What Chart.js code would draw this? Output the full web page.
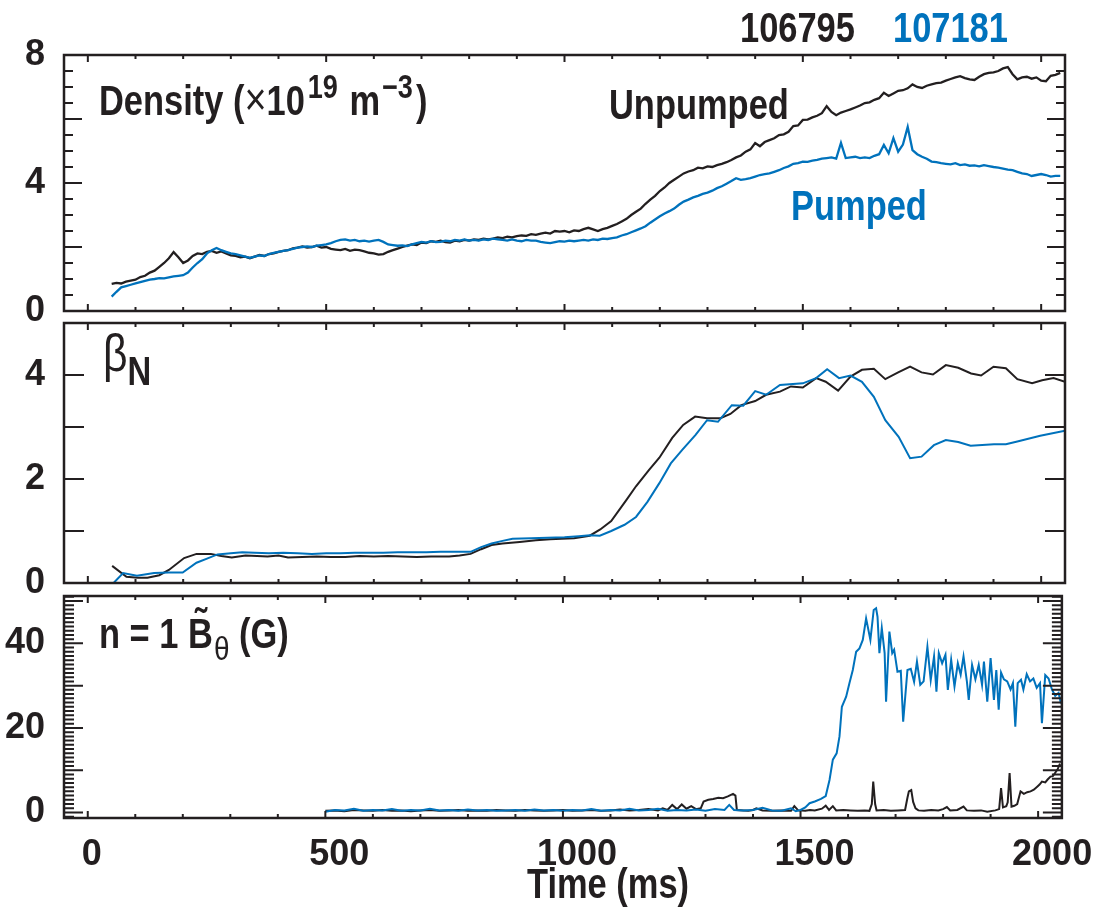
<!DOCTYPE html>
<html>
<head>
<meta charset="utf-8">
<title>Density, beta_N and n=1 B</title>
<script src="https://cdn.jsdelivr.net/npm/chart.js@4.4.1/dist/chart.umd.min.js"></script>
<style>
  body { margin: 0; background: #fff; }
  #wrap { position: relative; width: 1100px; height: 910px; }
  #wrap canvas { position: absolute; left: 0; top: 0; }
</style>
</head>
<body>
<div id="wrap">
  <canvas id="density" width="1100" height="910"></canvas>
  <canvas id="beta" width="1100" height="910"></canvas>
  <canvas id="bfield" width="1100" height="910"></canvas>
</div>
<script>
// shot numbers
const shotUnpumped = '106795';
const shotPumped = '107181';

// line-averaged density (x10^19 m^-3), one value every 10 ms from 50 ms
const densityStart = 50;
const densityStep = 10;
const densityUnpumped = [
  0.85, 0.88, 0.86, 0.92, 0.95, 0.98, 1.06, 1.10, 1.20, 1.26,
  1.38, 1.50, 1.65, 1.84, 1.68, 1.50, 1.58, 1.72, 1.80, 1.78,
  1.85, 1.88, 1.82, 1.86, 1.80, 1.74, 1.72, 1.68, 1.70, 1.65,
  1.70, 1.75, 1.72, 1.78, 1.80, 1.85, 1.88, 1.90, 1.96, 1.98,
  2.02, 1.98, 2.00, 2.04, 1.98, 2.00, 1.94, 1.92, 1.90, 1.94,
  1.88, 1.92, 1.90, 1.86, 1.82, 1.80, 1.76, 1.78, 1.85, 1.90,
  1.95, 2.00, 2.04, 2.08, 2.06, 2.14, 2.12, 2.18, 2.16, 2.20,
  2.15, 2.14, 2.20, 2.18, 2.22, 2.20, 2.24, 2.22, 2.26, 2.24,
  2.26, 2.30, 2.28, 2.32, 2.30, 2.34, 2.36, 2.35, 2.40, 2.38,
  2.42, 2.45, 2.42, 2.50, 2.48, 2.50, 2.46, 2.52, 2.50, 2.56,
  2.60, 2.55, 2.50, 2.56, 2.60, 2.66, 2.72, 2.80, 2.88, 3.00,
  3.10, 3.20, 3.35, 3.48, 3.60, 3.75, 3.86, 4.00, 4.10, 4.20,
  4.30, 4.36, 4.40, 4.48, 4.46, 4.52, 4.50, 4.56, 4.60, 4.65,
  4.72, 4.80, 4.86, 4.98, 5.05, 5.25, 5.15, 5.28, 5.34, 5.40,
  5.50, 5.52, 5.60, 5.78, 5.80, 5.97, 5.98, 6.05, 6.10, 6.18,
  6.40, 6.22, 6.12, 6.20, 6.25, 6.30, 6.36, 6.42, 6.50, 6.52,
  6.60, 6.65, 6.82, 6.72, 6.80, 6.88, 6.90, 6.96, 7.08, 7.00,
  6.97, 7.04, 7.08, 7.12, 7.14, 7.20, 7.25, 7.30, 7.34, 7.28,
  7.24, 7.22, 7.32, 7.40, 7.44, 7.46, 7.50, 7.58, 7.62, 7.40,
  7.24, 7.30, 7.32, 7.26, 7.30, 7.20, 7.18, 7.35, 7.38, 7.44
];
const densityPumped = [
  0.45, 0.60, 0.74, 0.78, 0.82, 0.86, 0.90, 0.94, 0.98, 1.00,
  1.03, 1.02, 1.05, 1.08, 1.10, 1.12, 1.20, 1.36, 1.50, 1.62,
  1.80, 1.90, 1.97, 1.90, 1.85, 1.80, 1.78, 1.74, 1.70, 1.66,
  1.70, 1.74, 1.72, 1.78, 1.82, 1.85, 1.88, 1.90, 1.94, 1.98,
  2.00, 2.02, 2.00, 2.04, 2.06, 2.08, 2.12, 2.18, 2.22, 2.24,
  2.20, 2.22, 2.18, 2.20, 2.17, 2.20, 2.22, 2.16, 2.08, 2.06,
  2.04, 2.05, 2.03, 2.08, 2.12, 2.16, 2.14, 2.18, 2.15, 2.16,
  2.20, 2.18, 2.22, 2.20, 2.24, 2.20, 2.22, 2.20, 2.24, 2.22,
  2.26, 2.24, 2.22, 2.20, 2.24, 2.20, 2.18, 2.22, 2.20, 2.20,
  2.16, 2.14, 2.12, 2.15, 2.18, 2.17, 2.20, 2.18, 2.20, 2.22,
  2.20, 2.24, 2.22, 2.26, 2.25, 2.28, 2.30, 2.36, 2.40, 2.46,
  2.52, 2.58, 2.65, 2.76, 2.86, 2.96, 3.05, 3.12, 3.20, 3.32,
  3.42, 3.48, 3.55, 3.60, 3.66, 3.70, 3.76, 3.84, 3.90, 3.98,
  4.06, 4.15, 4.10, 4.12, 4.15, 4.20, 4.25, 4.28, 4.30, 4.35,
  4.40, 4.47, 4.52, 4.60, 4.62, 4.67, 4.66, 4.70, 4.72, 4.76,
  4.78, 4.80, 4.76, 5.25, 4.78, 4.80, 4.82, 4.78, 4.80, 4.78,
  4.85, 4.90, 5.19, 4.93, 5.40, 4.98, 5.20, 5.75, 5.03, 4.90,
  4.82, 4.76, 4.67, 4.65, 4.62, 4.60, 4.58, 4.62, 4.56, 4.58,
  4.54, 4.55, 4.52, 4.56, 4.53, 4.50, 4.48, 4.45, 4.42, 4.40,
  4.35, 4.30, 4.28, 4.22, 4.25, 4.28, 4.25, 4.20, 4.22, 4.22
];

// beta_N, [time ms, value]
const betaUnpumped = [
  [51, 0.33], [81, 0.12], [105, 0.10], [125, 0.10], [150, 0.15], [170, 0.25], [202, 0.48], [228, 0.56],
  [258, 0.56], [280, 0.52], [302, 0.49], [331, 0.53], [355, 0.52], [377, 0.51], [400, 0.53], [420, 0.49],
  [450, 0.50], [480, 0.51], [510, 0.50], [540, 0.50], [570, 0.52], [600, 0.51], [630, 0.52], [660, 0.51],
  [690, 0.50], [720, 0.51], [758, 0.51], [780, 0.53], [803, 0.56], [825, 0.65], [847, 0.73], [870, 0.76],
  [906, 0.79], [940, 0.82], [970, 0.84], [994, 0.85], [1020, 0.86], [1053, 0.91], [1075, 1.03], [1098, 1.19],
  [1130, 1.60], [1150, 1.86], [1177, 2.17], [1199, 2.41], [1226, 2.79], [1249, 3.04], [1274, 3.20], [1299, 3.17],
  [1327, 3.17], [1348, 3.25], [1371, 3.42], [1400, 3.50], [1423, 3.62], [1452, 3.68], [1475, 3.78], [1500, 3.76],
  [1528, 3.94], [1548, 3.87], [1574, 3.70], [1600, 3.97], [1624, 4.10], [1649, 4.12], [1673, 3.92], [1700, 4.05],
  [1725, 4.16], [1749, 4.05], [1773, 4.01], [1800, 4.19], [1826, 4.14], [1853, 4.03], [1874, 3.99], [1900, 4.16],
  [1926, 4.13], [1950, 3.92], [1981, 3.84], [2002, 3.90], [2026, 3.94], [2050, 3.87]
];
const betaPumped = [
  [54, 0.00], [74, 0.19], [103, 0.14], [139, 0.19], [170, 0.20], [199, 0.20], [228, 0.39], [250, 0.47],
  [272, 0.55], [300, 0.57], [324, 0.59], [350, 0.58], [380, 0.57], [410, 0.58], [440, 0.57], [470, 0.56],
  [500, 0.57], [530, 0.57], [560, 0.58], [590, 0.58], [620, 0.58], [650, 0.59], [680, 0.59], [710, 0.59],
  [740, 0.60], [770, 0.60], [803, 0.60], [825, 0.69], [847, 0.76], [870, 0.81], [891, 0.85], [930, 0.86],
  [964, 0.87], [1000, 0.88], [1030, 0.90], [1053, 0.92], [1074, 0.91], [1098, 1.00], [1126, 1.12], [1150, 1.27],
  [1174, 1.56], [1199, 1.92], [1223, 2.30], [1247, 2.56], [1275, 2.85], [1299, 3.13], [1322, 3.10], [1351, 3.42],
  [1375, 3.41], [1400, 3.69], [1423, 3.62], [1452, 3.81], [1500, 3.84], [1528, 3.94], [1551, 4.11], [1576, 3.94],
  [1600, 3.99], [1624, 3.87], [1649, 3.58], [1673, 3.13], [1701, 2.81], [1725, 2.40], [1749, 2.43], [1775, 2.65],
  [1800, 2.75], [1826, 2.71], [1852, 2.64], [1901, 2.67], [1926, 2.67], [1950, 2.72], [1998, 2.83], [2050, 2.93]
];

// n=1 B_theta amplitude (G), [time ms, value]
const bUnpumped = [
  [500, 0.4], [520, 0.5], [540, 0.3], [560, 0.6], [580, 0.5], [600, 0.4], [620, 0.6], [640, 0.4], [660, 0.5], [680, 0.3],
  [700, 0.5], [720, 0.6], [740, 0.4], [760, 0.5], [780, 0.6], [800, 0.4], [820, 0.5], [840, 0.4], [860, 0.6], [880, 0.5],
  [900, 0.4], [920, 0.6], [940, 0.5], [960, 0.4], [980, 0.5], [1000, 0.6], [1020, 0.4], [1040, 0.5], [1060, 0.6], [1080, 0.4],
  [1100, 0.5], [1120, 0.7], [1140, 0.5], [1160, 0.6], [1180, 0.8], [1200, 0.5], [1210, 1.0], [1220, 0.6], [1230, 1.8], [1240, 0.8],
  [1250, 1.9], [1260, 0.9], [1270, 1.5], [1280, 0.8], [1290, 1.0], [1296, 2.6], [1306, 3.0], [1316, 3.2], [1327, 3.5], [1337, 3.4],
  [1347, 3.8], [1358, 4.4], [1363, 4.0], [1366, 0.6], [1380, 0.5], [1390, 0.4], [1400, 0.6], [1407, 1.0], [1420, 0.5], [1440, 0.4],
  [1460, 0.5], [1480, 0.4], [1487, 1.5], [1495, 0.5], [1510, 0.4], [1520, 0.6], [1530, 0.5], [1545, 0.9], [1553, 1.6], [1560, 0.6],
  [1568, 1.5], [1575, 0.5], [1590, 0.6], [1605, 0.5], [1620, 0.4], [1635, 0.5], [1645, 0.4], [1650, 2.0], [1653, 7.3], [1657, 2.0],
  [1660, 0.5], [1675, 0.6], [1690, 0.4], [1705, 0.5], [1720, 0.6], [1725, 3.5], [1728, 5.0], [1733, 5.3], [1737, 2.5], [1742, 1.0],
  [1748, 0.5], [1760, 0.4], [1775, 0.6], [1790, 0.5], [1800, 0.8], [1808, 1.3], [1815, 0.5], [1830, 0.6], [1843, 1.4], [1850, 0.5],
  [1865, 0.4], [1880, 0.5], [1893, 0.2], [1910, 0.5], [1918, 0.8], [1922, 5.8], [1926, 1.2], [1933, 1.5], [1936, 2.4], [1940, 9.3],
  [1944, 1.4], [1950, 1.6], [1956, 2.0], [1963, 5.0], [1970, 4.4], [1977, 4.8], [1984, 5.0], [1991, 5.4], [1998, 6.1], [2003, 6.6],
  [2008, 7.3], [2015, 7.1], [2020, 7.8], [2026, 8.5], [2031, 8.6], [2036, 9.4], [2041, 10.2], [2045, 11.3], [2048, 11.0]
];
const bPumped = [
  [500, 0.2], [520, 0.6], [540, 0.5], [560, 0.9], [580, 0.4], [600, 0.6], [620, 0.5], [640, 0.8], [660, 0.4], [680, 0.6],
  [700, 0.5], [720, 0.9], [740, 0.5], [760, 0.6], [780, 0.4], [800, 0.7], [820, 0.5], [840, 0.6], [860, 0.4], [880, 0.5],
  [900, 0.6], [920, 0.4], [940, 0.7], [960, 0.5], [980, 0.6], [1000, 0.4], [1020, 0.6], [1040, 0.5], [1060, 0.8], [1080, 0.4],
  [1100, 0.6], [1120, 0.5], [1140, 0.9], [1160, 0.5], [1180, 0.6], [1200, 0.9], [1220, 0.4], [1240, 0.6], [1260, 0.5], [1280, 0.7],
  [1300, 0.4], [1320, 0.8], [1340, 0.6], [1350, 1.8], [1360, 0.6], [1380, 0.5], [1400, 0.6], [1420, 1.1], [1440, 0.5], [1460, 0.4],
  [1480, 1.0], [1490, 0.3], [1500, 0.6], [1510, 1.2], [1519, 2.2], [1530, 2.6], [1543, 3.2], [1553, 3.9], [1561, 7.7], [1568, 12.5],
  [1576, 14], [1582, 18], [1587, 25], [1596, 27.4], [1603, 30.6], [1610, 33.7], [1617, 38], [1624, 38.8], [1631, 40.8], [1638, 45.9],
  [1647, 40.8], [1654, 47.9], [1659, 48.3], [1662, 46.3], [1666, 37.7], [1671, 43.6], [1677, 37.7], [1680, 26.2], [1687, 42.8], [1693, 37.7],
  [1697, 38.5], [1704, 33.3], [1711, 33.5], [1716, 21.5], [1725, 33.7], [1732, 34], [1739, 30.9], [1745, 35.7], [1752, 30.2], [1759, 31],
  [1767, 39.2], [1774, 31.3], [1781, 36.9], [1786, 28.6], [1791, 37.7], [1798, 35.3], [1805, 37.3], [1810, 29], [1817, 36.1], [1824, 29.8],
  [1831, 35.3], [1837, 32.6], [1843, 36.9], [1850, 31.1], [1854, 26.6], [1861, 34.9], [1868, 31.5], [1875, 34.9], [1882, 30.2], [1886, 35.7],
  [1893, 26.2], [1900, 36.5], [1907, 26.6], [1912, 33.7], [1917, 24.3], [1922, 33.1], [1928, 31.5], [1935, 31], [1942, 29.1], [1947, 30.6],
  [1952, 20.3], [1957, 30.6], [1964, 31.4], [1969, 29.1], [1976, 32.7], [1983, 31], [1990, 31.7], [1997, 29.5], [2004, 30.6], [2008, 21.1],
  [2015, 32.5], [2022, 31.7], [2029, 29.1], [2036, 27.6], [2043, 28.3], [2048, 25.8]
];

// axis ticks
const timeTicks = [0, 500, 1000, 1500, 2000];
const densityTicks = [0, 4, 8];
const betaTicks = [0, 2, 4];
const bTicks = [0, 20, 40];

const INK = '#231f20';
const BLUE = '#0072bc';
const FONT = "'Liberation Sans', Arial, sans-serif";
const SQUEEZE = 0.82; // the labels are set in a narrow face

function sampled(start, step, values) {
  return values.map((v, i) => ({ x: start + i * step, y: v }));
}
function pairs(list) {
  return list.map(p => ({ x: p[0], y: p[1] }));
}

// box round the plot with inward ticks on all four sides
function framePlugin(o) {
  return {
    id: 'frame',
    afterDraw(chart) {
      const { ctx, chartArea: a, scales: { x, y } } = chart;
      ctx.save();
      ctx.strokeStyle = INK;
      ctx.lineWidth = 2;
      ctx.beginPath();
      for (let t = 0; t <= 2000; t += 100) {
        const px = x.getPixelForValue(t);
        const len = t % 500 === 0 ? 7 : 4;
        ctx.moveTo(px, a.bottom); ctx.lineTo(px, a.bottom - len);
        ctx.moveTo(px, a.top); ctx.lineTo(px, a.top + len);
      }
      const n0 = Math.ceil(y.min / o.minor - 1e-9);
      const n1 = Math.floor(y.max / o.minor + 1e-9);
      for (let n = n0; n <= n1; n++) {
        const v = n * o.minor;
        const q = v / o.major;
        const len = Math.abs(q - Math.round(q)) < 1e-6 ? o.majorLen : o.minorLen;
        const py = y.getPixelForValue(v);
        ctx.moveTo(a.left, py); ctx.lineTo(a.left + len, py);
        ctx.moveTo(a.right, py); ctx.lineTo(a.right - len, py);
      }
      ctx.stroke();
      ctx.lineWidth = 2.5;
      ctx.strokeRect(a.left, a.top, a.right - a.left, a.bottom - a.top);
      ctx.restore();
    }
  };
}

// free text labels, each a run of pieces drawn one after the other
function notesPlugin(items) {
  return {
    id: 'notes',
    afterDraw(chart) {
      const ctx = chart.ctx;
      ctx.save();
      ctx.textBaseline = 'alphabetic';
      items.forEach(item => {
        let x = item.x;
        item.runs.forEach(r => {
          const size = r.size || 42;
          x += r.dx || 0;
          ctx.font = `${r.weight || 'bold'} ${size}px ${FONT}`;
          ctx.fillStyle = r.color || INK;
          const w = ctx.measureText(r.t).width * SQUEEZE;
          ctx.save();
          ctx.translate(x, item.y + (r.dy || 0));
          ctx.scale(SQUEEZE, 1);
          ctx.textAlign = 'left';
          ctx.fillText(r.t, 0, 0);
          ctx.restore();
          if (r.over) {
            // accent centred over this piece
            ctx.save();
            ctx.translate(x + w / 2, item.y + (r.overDy || 0));
            ctx.scale(SQUEEZE, 1);
            ctx.textAlign = 'center';
            ctx.fillText(r.over, 0, 0);
            ctx.restore();
          }
          x += w;
        });
      });
      ctx.restore();
    }
  };
}

function makeChart(id, cfg) {
  return new Chart(document.getElementById(id), {
    type: 'line',
    data: { datasets: cfg.datasets },
    options: {
      responsive: false,
      animation: false,
      events: [],
      layout: { padding: cfg.padding },
      elements: { point: { radius: 0 }, line: { borderWidth: cfg.lineWidth || 2, tension: 0 } },
      plugins: { legend: { display: false }, tooltip: { enabled: false } },
      scales: {
        x: {
          type: 'linear',
          min: -50,
          max: 2050,
          grid: { display: false },
          border: { display: false },
          afterBuildTicks: s => { s.ticks = timeTicks.map(v => ({ value: v })); },
          afterFit: s => { s.height = cfg.xHeight; },
          ticks: {
            display: cfg.xLabels,
            padding: 11,
            labelOffset: 4,
            color: INK,
            font: { family: FONT, size: 36, weight: 'bold', lineHeight: 1 },
            maxRotation: 0,
            callback: v => (v === 0 ? '0' : '  ' + v)
          }
        },
        y: {
          min: cfg.yMin,
          max: cfg.yMax,
          grid: { display: false },
          border: { display: false },
          afterBuildTicks: s => { s.ticks = cfg.yTicks.map(v => ({ value: v })); },
          afterFit: s => { s.width = 64; },
          ticks: {
            padding: 11,
            color: INK,
            font: { family: FONT, size: 36, weight: 'bold', lineHeight: 1 }
          }
        }
      }
    },
    plugins: [framePlugin(cfg.frame), notesPlugin(cfg.notes)]
  });
}

// top panel: density
makeChart('density', {
  padding: { left: 0, right: 35, top: 55, bottom: 599 },
  xHeight: 0,
  xLabels: false,
  lineWidth: 2.3,
  yMin: 0, yMax: 8, yTicks: densityTicks,
  frame: { minor: 0.5, major: 2, minorLen: 9, majorLen: 18 },
  datasets: [
    { data: sampled(densityStart, densityStep, densityPumped), borderColor: BLUE },
    { data: sampled(densityStart, densityStep, densityUnpumped), borderColor: INK }
  ],
  notes: [
    { x: 740, y: 42, runs: [{ t: shotUnpumped }] },
    { x: 893, y: 42, runs: [{ t: shotPumped, color: BLUE }] },
    { x: 99, y: 115, runs: [
      { t: 'Density (' }, { t: '×', weight: 'normal', size: 46 }, { t: '10' },
      { t: '19', size: 33, dy: -17, dx: 3 }, { t: ' m', dx: 2 }, { t: '−3', size: 33, dy: -17, dx: 2 }, { t: ')', dx: 3 }
    ] },
    { x: 609, y: 119, runs: [{ t: 'Unpumped' }] },
    { x: 791, y: 220, runs: [{ t: 'Pumped', color: BLUE }] }
  ]
});

// middle panel: beta_N
makeChart('beta', {
  padding: { left: 0, right: 35, top: 323, bottom: 327 },
  xHeight: 0,
  xLabels: false,
  yMin: 0, yMax: 5, yTicks: betaTicks,
  frame: { minor: 1, major: 1, minorLen: 20, majorLen: 20 },
  datasets: [
    { data: pairs(betaPumped), borderColor: BLUE },
    { data: pairs(betaUnpumped), borderColor: INK }
  ],
  notes: [
    { x: 103, y: 371, runs: [{ t: 'β', weight: 'normal', size: 52 }, { t: 'N', size: 40, dy: 14 }] }
  ]
});

// bottom panel: n=1 B_theta
makeChart('bfield', {
  padding: { left: 0, right: 35, top: 596, bottom: 0 },
  xHeight: 92,
  xLabels: true,
  yMin: -1.3, yMax: 51.2, yTicks: bTicks,
  frame: { minor: 1, major: 10, minorLen: 10, majorLen: 19 },
  datasets: [
    { data: pairs(bPumped), borderColor: BLUE },
    { data: pairs(bUnpumped), borderColor: INK }
  ],
  notes: [
    { x: 99, y: 648, runs: [
      { t: 'n = 1 ' }, { t: 'B', over: '˜', overDy: -10 },
      { t: 'θ', weight: 'normal', size: 34, dy: 12, dx: 1 }, { t: ' (G)' }
    ] },
    { x: 527, y: 898, runs: [{ t: 'Time (ms)' }] }
  ]
});
</script>
</body>
</html>
